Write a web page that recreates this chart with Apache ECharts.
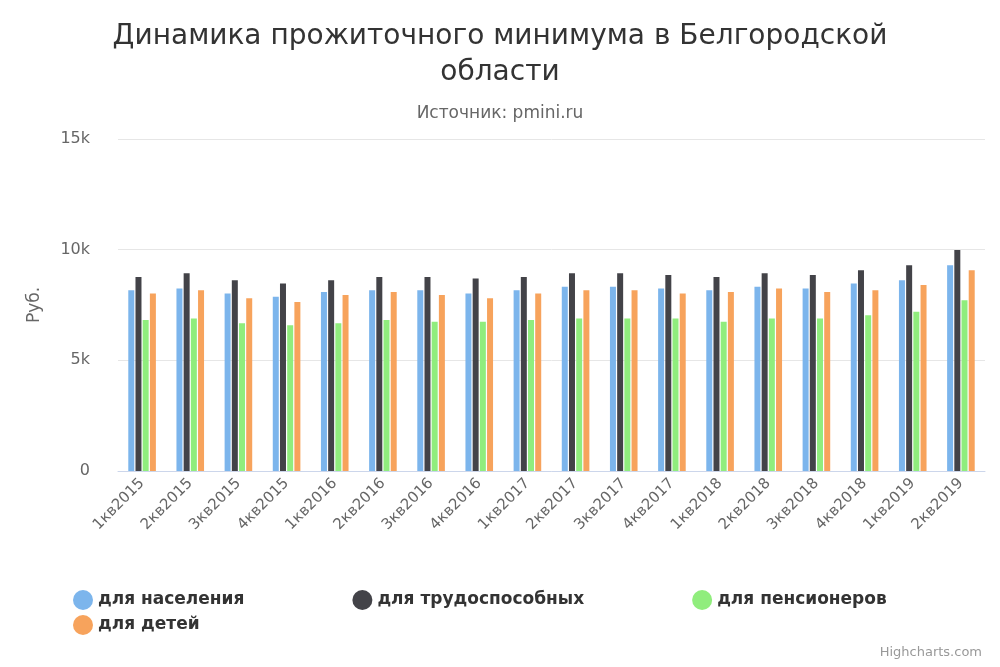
<!doctype html>
<html>
<head>
<meta charset="utf-8">
<script src="https://cdn.jsdelivr.net/npm/echarts@6/dist/echarts.min.js"></script>
</head>
<body style="margin:0">
<div id="chart" style="width:1000px;height:667px;"></div>
<script>
var categories = ['1кв2015','2кв2015','3кв2015','4кв2015','1кв2016','2кв2016','3кв2016','4кв2016','1кв2017','2кв2017','3кв2017','4кв2017','1кв2018','2кв2018','3кв2018','4кв2018','1кв2019','2кв2019'];
var population = [8170,8250,8020,7870,8090,8170,8170,8020,8170,8320,8320,8250,8170,8320,8250,8470,8620,9300];
var workers    = [8770,8930,8620,8470,8620,8770,8770,8700,8770,8930,8930,8850,8770,8930,8850,9070,9300,9980];
var pensioners = [6820,6890,6670,6590,6670,6820,6740,6740,6820,6890,6890,6890,6740,6890,6890,7040,7190,7720];
var children   = [8020,8170,7800,7640,7950,8090,7950,7800,8020,8170,8170,8020,8090,8250,8090,8170,8400,9070];

var font = '"DejaVu Sans", Verdana, sans-serif';
function bar(name, data, color) {
  return {name: name, type: 'bar', data: data, barWidth: 6, barGap: '20%',
    itemStyle: {color: color}};
}
var legendText = {fontSize: 17, fontWeight: 'bold', color: '#333', fontFamily: font};
var myChart = echarts.init(document.getElementById('chart'));
myChart.setOption({
  animation: false,
  textStyle: {fontFamily: font},
  title: {
    text: 'Динамика прожиточного минимума в Белгородской\nобласти',
    subtext: 'Источник: pmini.ru',
    left: 'center', top: 14, itemGap: 14,
    textStyle: {fontSize: 28, fontWeight: 'normal', color: '#333', lineHeight: 36, fontFamily: font},
    subtextStyle: {fontSize: 17, color: '#666', fontFamily: font}
  },
  legend: [{
    left: 68, top: 585, itemGap: 108,
    icon: 'circle', itemWidth: 20, itemHeight: 20,
    data: ['для населения', 'для трудоспособных', 'для пенсионеров'],
    textStyle: legendText
  }, {
    left: 68, top: 610,
    icon: 'circle', itemWidth: 20, itemHeight: 20,
    data: ['для детей'],
    textStyle: legendText
  }],
  grid: {left: 118, right: 15, top: 139, bottom: 196},
  xAxis: {
    type: 'category', data: categories,
    axisTick: {show: false},
    axisLine: {lineStyle: {color: '#ccd6eb'}},
    axisLabel: {rotate: 45, fontSize: 15, color: '#666', interval: 0, margin: 10}
  },
  yAxis: {
    type: 'value', min: 0, max: 15000, interval: 5000,
    name: 'Руб.', nameLocation: 'middle', nameGap: 75, nameRotate: 90,
    nameTextStyle: {fontSize: 17, color: '#666'},
    splitLine: {lineStyle: {color: '#e6e6e6'}},
    axisLabel: {fontSize: 16, color: '#666', margin: 28,
      formatter: function (v) { return v === 0 ? '0' : (v / 1000) + 'k'; }}
  },
  series: [
    bar('для населения', population, '#7cb5ec'),
    bar('для трудоспособных', workers, '#434348'),
    bar('для пенсионеров', pensioners, '#90ed7d'),
    bar('для детей', children, '#f7a35c')
  ],
  graphic: [{type: 'text', right: 18, top: 646,
    style: {text: 'Highcharts.com', fontSize: 13, fill: '#999', fontFamily: font}}]
});
</script>
</body>
</html>
